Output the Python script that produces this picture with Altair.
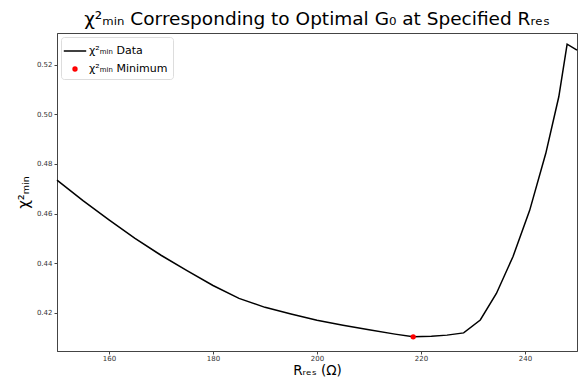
import altair as alt
import pandas as pd

# Data
r_res = [150, 155, 160, 165, 170, 175, 180, 185, 190, 195, 200, 205, 210, 215, 218.5,
         222, 225, 228.2, 231.4, 234.5, 237.7, 240.9, 244.0, 246.5, 248.1, 250]
chi2 = [0.4735, 0.4652, 0.4575, 0.4500, 0.4432, 0.4370, 0.4310, 0.4258, 0.4222, 0.4195,
        0.4170, 0.4150, 0.4132, 0.4114, 0.4103,
        0.4105, 0.4110, 0.4119, 0.4171, 0.4278, 0.4427, 0.4613, 0.4843, 0.5071, 0.5283, 0.5259]
min_r = [218.5]
min_chi2 = [0.4103]

series_names = ["χ²ₘᵢₙ Data", "χ²ₘᵢₙ Minimum"]
x_ticks = [160, 180, 200, 220, 240]
y_ticks = [0.42, 0.44, 0.46, 0.48, 0.50, 0.52]

df = pd.DataFrame({"r": r_res, "chi": chi2, "series": series_names[0]})
dmin = pd.DataFrame({"r": min_r, "chi": min_chi2, "series": series_names[1]})

FONT = "DejaVu Sans"

LINE_PATH = "M-1.4,0H1.4"
DOT_PATH = ("M0.24,0A0.24,0.24,0,1,1,-0.24,0A0.24,0.24,0,1,1,0.24,0Z"
            "M0.12,0A0.12,0.12,0,1,1,-0.12,0A0.12,0.12,0,1,1,0.12,0Z")

x_enc = alt.X("r:Q", scale=alt.Scale(domain=[150, 250], nice=False, zero=False),
              axis=alt.Axis(values=x_ticks, title="Rᵣₑₛ (Ω)", format="d"))
y_enc = alt.Y("chi:Q", scale=alt.Scale(domain=[0.4046, 0.5328], nice=False, zero=False),
              axis=alt.Axis(values=y_ticks, title="χ²ₘᵢₙ", format=".2f"))

color_scale = alt.Scale(domain=series_names, range=["black", "red"])
shape_scale = alt.Scale(domain=series_names, range=[LINE_PATH, DOT_PATH])

line = alt.Chart(df).mark_line(strokeWidth=1.5).encode(
    x=x_enc, y=y_enc,
    color=alt.Color("series:N", scale=color_scale, title=None),
)

pt = alt.Chart(dmin).mark_point(filled=False, size=256, strokeWidth=1.5, opacity=1).encode(
    x="r:Q", y="chi:Q",
    color=alt.Color("series:N", scale=color_scale, title=None),
    shape=alt.Shape("series:N", scale=shape_scale, title=None),
)

chart = alt.layer(line, pt).properties(
    width=520, height=318,
    title=alt.Title("χ²ₘᵢₙ Corresponding to Optimal G₀ at Specified Rᵣₑₛ",
                    fontSize=18.5, font=FONT, fontWeight="normal", offset=5, anchor="middle",
                    color="black"),
    autosize=alt.AutoSizeParams(type="none"),
    padding={"left": 49, "top": 25, "right": 2, "bottom": 26},
).configure_view(
    stroke="#444", strokeWidth=1
).configure_axis(
    grid=False, labelFont=FONT, titleFont=FONT, labelFontSize=7, labelColor="#333",
    domainColor="#444", tickColor="#444", tickSize=3, titleFontSize=13.5,
    titleFontWeight="normal", titleColor="black",
).configure_axisY(titlePadding=5, labelPadding=2, titleFontSize=15).configure_axisX(
    titlePadding=2, labelPadding=0
).configure_legend(
    orient="top-left", offset=4, strokeColor="#ddd", cornerRadius=3, padding=5,
    fillColor="white", labelFont=FONT, labelFontSize=11, labelColor="black",
    symbolStrokeWidth=1.5, symbolSize=256, rowPadding=4, labelOffset=5,
)

chart.save("out.html", embed_options={"renderer": "svg", "actions": False})
